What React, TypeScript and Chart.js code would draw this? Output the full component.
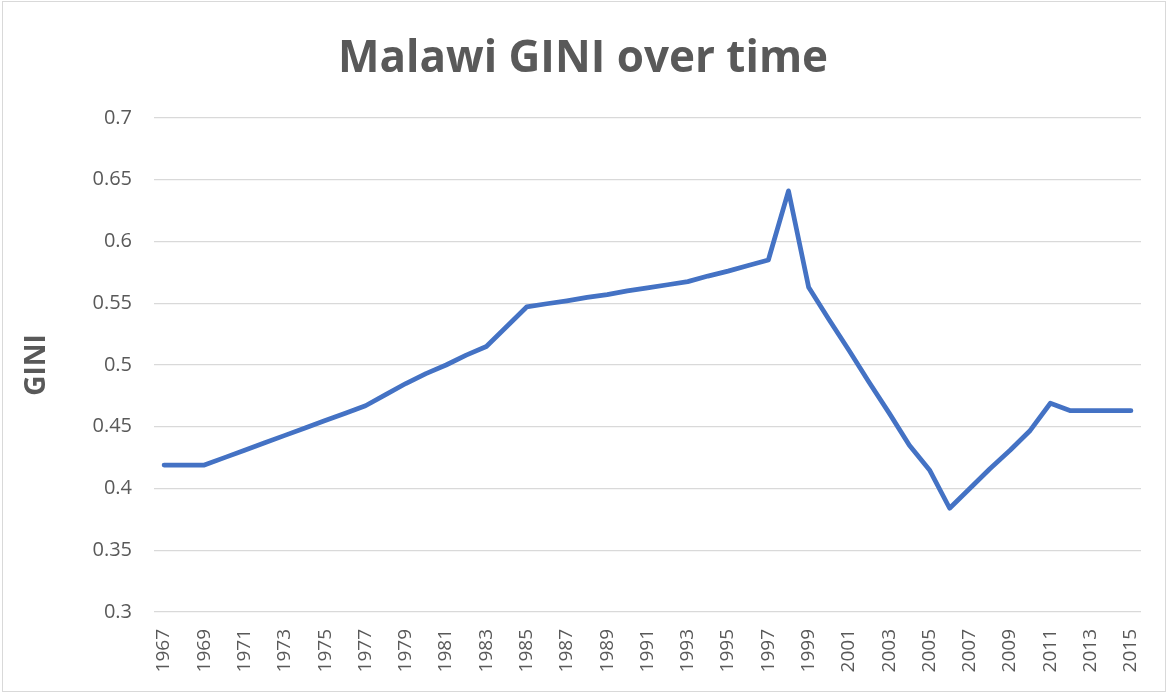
import React, { useEffect, useRef } from "react";
import { Chart, registerables } from "chart.js";

Chart.register(...registerables);

const years: string[] = [];
for (let y = 1967; y <= 2015; y++) years.push(String(y));

const giniValues: number[] = [
  0.419, 0.419, 0.419, // 1967-1969
  0.425, 0.431, 0.437, 0.443, 0.449, 0.455, 0.461, 0.467, // 1970-1977
  0.476, 0.485, 0.493, 0.5, 0.508, 0.515, // 1978-1983
  0.531, 0.547, // 1984-1985
  0.5496, 0.552, 0.5547, 0.557, 0.56, 0.5624, 0.565, 0.5675, // 1986-1993
  0.572, 0.576, 0.5805, 0.585, // 1994-1997
  0.641, 0.563, // 1998-1999
  0.537, 0.512, 0.486, 0.461, 0.435, // 2000-2004
  0.415, 0.384, // 2005-2006
  0.4, 0.416, 0.431, 0.447, // 2007-2010
  0.469, 0.463, 0.463, 0.463, 0.463, // 2011-2015
];

const yTicks: number[] = [0.3, 0.35, 0.4, 0.45, 0.5, 0.55, 0.6, 0.65, 0.7];

const TITLE = "Malawi GINI over time";
const TEXT = "#595959";
const GRID = "#d9d9d9";
const FONT = "'Open Sans', sans-serif";

const titlePlugin = {
  id: "centeredTitle",
  afterDraw(chart: any) {
    const ctx = chart.ctx;
    ctx.save();
    ctx.fillStyle = TEXT;
    ctx.font = `bold 44px ${FONT}`;
    ctx.textAlign = "center";
    ctx.textBaseline = "alphabetic";
    ctx.fillText(TITLE, 583, 72);
    ctx.restore();
  },
};

export default function App() {
  const ref = useRef<HTMLCanvasElement | null>(null);
  useEffect(() => {
    if (!ref.current) return;
    const chart = new Chart(ref.current, {
      type: "line",
      data: {
        labels: years,
        datasets: [
          {
            label: "GINI",
            data: giniValues,
            borderColor: "#4472C4",
            backgroundColor: "#4472C4",
            borderWidth: 4.75,
            pointRadius: 0,
            tension: 0,
            borderCapStyle: "round",
            borderJoinStyle: "round",
          },
        ],
      },
      options: {
        animation: false,
        responsive: false,
        maintainAspectRatio: false,
        layout: { padding: { left: 0, right: 27, top: 118, bottom: 0 } },
        plugins: {
          legend: { display: false },
          tooltip: { enabled: false },
          title: { display: false },
        },
        scales: {
          x: {
            type: "category",
            offset: true,
            grid: { display: false, drawTicks: false },
            border: { display: false },
            ticks: {
              autoSkip: false,
              maxRotation: 90,
              minRotation: 90,
              padding: 17,
              color: TEXT,
              font: { family: FONT, size: 19 },
              callback: (_v: any, i: number) => (i % 2 === 0 ? years[i] : ""),
            },
            afterFit: (s: any) => {
              s.height = 82;
              s.paddingLeft = 0;
              s.paddingRight = 0;
            },
          },
          y: {
            min: 0.3,
            max: 0.7,
            afterBuildTicks: (s: any) => {
              s.ticks = yTicks.map((v) => ({ value: v }));
            },
            grid: { color: GRID, lineWidth: 1.3, drawTicks: false },
            border: { display: false },
            ticks: {
              padding: 22,
              color: TEXT,
              font: { family: FONT, size: 20 },
              callback: (v: any) => String(Number(v)),
            },
            title: {
              display: true,
              text: "GINI",
              color: TEXT,
              font: { family: FONT, size: 28, weight: "bold", lineHeight: 1.2 },
              padding: { top: 20, bottom: 0 },
            },
            afterFit: (s: any) => {
              s.width = 154;
              s.paddingTop = 0;
              s.paddingBottom = 0;
            },
          },
        },
      },
      plugins: [titlePlugin],
    });
    return () => chart.destroy();
  }, []);
  return (
    <div style={{ position: "fixed", left: 0, top: 0, width: 1168, height: 694, background: "#fff" }}>
      <canvas ref={ref} width={1168} height={694} style={{ display: "block" }} />
      <div
        style={{
          position: "absolute",
          left: 2,
          top: 1,
          width: 1164,
          height: 691,
          boxSizing: "border-box",
          border: "1px solid #d9d9d9",
          pointerEvents: "none",
        }}
      />
    </div>
  );
}
